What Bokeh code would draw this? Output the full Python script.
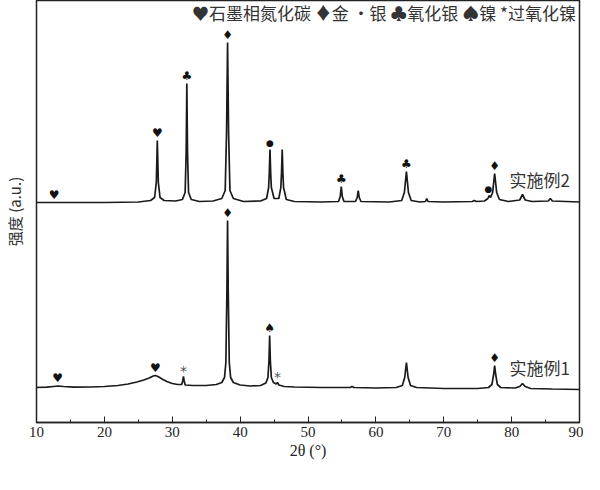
from bokeh.plotting import figure
from bokeh.models import Range1d, FixedTicker, Label
from bokeh.core.properties import value
from bokeh.embed import file_html
from bokeh.resources import INLINE

# ---- data ----
x1 = [10.0, 11.5, 12.5, 13.2, 14.0, 15.5, 18.0, 20.0, 22.0, 23.5, 24.8, 25.8, 26.6, 27.2, 27.5, 27.9,
      28.5, 29.2, 30.0, 30.8, 31.4, 31.55, 31.65, 31.75, 31.9, 33.0, 35.0, 36.5, 37.3, 37.7, 37.9,
      38.05, 38.15, 38.25, 38.4, 38.6, 39.0, 40.0, 41.5, 43.0, 43.8, 44.1, 44.25, 44.35, 44.45, 44.6,
      44.9, 45.3, 45.5, 45.7, 46.5, 48.0, 52.0, 56.2, 56.5, 56.8, 60.0, 63.0, 63.9, 64.25, 64.5, 64.75,
      65.1, 66.0, 70.0, 75.0, 76.6, 77.1, 77.35, 77.5, 77.65, 77.9, 78.4, 80.5, 81.2, 81.6, 82.0, 82.8,
      86.0, 90.0]
y1 = [35, 35.3, 36, 36.5, 36, 35.3, 35.5, 36, 37, 38.5, 40.5, 42.5, 44.5, 46.5, 47, 46,
      43.5, 41, 39, 38, 38, 42, 46, 42, 37.5, 37, 37, 38, 40, 45, 60,
      130, 202, 130, 60, 45, 40, 37.5, 36.5, 37, 39.5, 45, 62, 87, 62, 45,
      40, 38.5, 40, 37.5, 36, 35.5, 35, 35, 36, 35, 34.5, 35, 37, 45, 60, 45,
      37, 35, 34, 34, 35, 38, 48, 57, 48, 38, 35, 34.5, 36, 39, 36, 34,
      33.5, 33]

x2 = [10.0, 20.0, 25.0, 26.8, 27.4, 27.65, 27.8, 27.95, 28.2, 28.8, 30.5, 31.5, 31.9, 32.05, 32.15,
      32.25, 32.4, 32.8, 34.0, 36.0, 37.3, 37.8, 38.0, 38.15, 38.3, 38.5, 39.0, 40.5, 43.0, 43.9,
      44.2, 44.3, 44.4, 44.5, 44.6, 45.0, 45.7, 46.0, 46.1, 46.2, 46.3, 46.4, 46.8, 48.0, 52.0,
      54.5, 54.75, 54.9, 55.05, 55.3, 57.0, 57.25, 57.4, 57.55, 57.8, 62.0, 63.8, 64.2, 64.5, 64.8,
      65.2, 66.5, 67.3, 67.5, 67.7, 70.0, 74.2, 74.5, 74.8, 76.0, 76.5, 76.7, 76.9, 77.2, 77.5,
      77.8, 78.2, 79.5, 81.2, 81.6, 82.0, 83.0, 85.4, 85.7, 86.0, 90.0]
y2 = [220, 220, 220.5, 222, 225, 240, 282, 240, 225, 222, 221.5, 223, 230, 270, 339,
      270, 230, 223, 221, 221.5, 224, 232, 290, 380, 290, 232, 224, 221, 221.5, 224,
      235, 250, 273, 250, 235, 224, 224, 235, 250, 273, 250, 235, 223, 221, 220.5,
      221, 226, 236, 226, 221, 221, 225, 232, 225, 221, 220.5, 222, 230, 251, 230,
      222, 220.5, 221, 224, 221, 220.5, 221, 222, 221, 221.5, 224, 227, 225, 230, 249,
      230, 223, 221, 222.5, 228, 222.5, 221, 221.5, 224, 221.5, 220.5]

# phase markers: position, peak intensity, symbol
mark2_x = [12.6, 27.8, 32.15, 38.15, 54.9, 64.5, 77.5]
mark2_y = [220, 282, 339, 380, 236, 251, 249]
mark2_s = ["♥", "♥", "♣", "♦", "♣", "♣", "♦"]
dot2_x = [44.4, 76.6]
dot2_y = [273, 227]

mark1_x = [13.1, 27.5, 38.15, 44.35, 77.5]
mark1_y = [36.5, 47, 202, 87, 57]
mark1_s = ["♥", "♥", "♦", "♠", "♦"]

star1_x = [31.65, 45.5]
star1_y = [46, 40]

legend_text = "♥石墨相氮化碳 ♦金 •银 ♣氧化银 ♠镍 *过氧化镍"
series_names = ["实施例1", "实施例2"]
x_ticks = [10, 20, 30, 40, 50, 60, 70, 80, 90]
x_minor = [15, 25, 35, 45, 55, 65, 75, 85]

# ---- figure ----
p = figure(width=583, height=464, output_backend="svg", toolbar_location=None,
           x_range=Range1d(10, 90), y_range=Range1d(0, 422),
           min_border_left=32, min_border_right=4, min_border_top=0, min_border_bottom=42)
p.background_fill_color = "white"
p.grid.visible = False
p.outline_line_color = "#222222"
p.outline_line_width = 1.5

line_col = "#1a1a1a"
p.line(x1, y1, line_color=line_col, line_width=1.7)
p.line(x2, y2, line_color=line_col, line_width=1.7)

sym_font = value("DejaVu Sans")
p.text(x=mark2_x, y=mark2_y, text=mark2_s, text_font=sym_font, text_font_size="12px",
       text_align="center", text_baseline="bottom", y_offset=-1, text_color="#111111")
p.text(x=dot2_x, y=dot2_y, text=["●"] * len(dot2_x), text_font=sym_font, text_font_size="9px",
       text_align="center", text_baseline="bottom", y_offset=-2, text_color="#111111")
p.text(x=mark1_x, y=mark1_y, text=mark1_s, text_font=sym_font, text_font_size="12px",
       text_align="center", text_baseline="bottom", y_offset=-1, text_color="#111111")
p.text(x=star1_x, y=star1_y, text=["*"] * len(star1_x), text_font=sym_font, text_font_size="14px",
       text_align="center", text_baseline="bottom", y_offset=2, text_color="#555555")

cjk = "Noto Sans CJK SC"
p.add_layout(Label(x=32.9, y=410, text=legend_text, text_font=cjk, text_font_size="17px",
                   text_color="#333333", text_align="left", text_baseline="middle"))
p.add_layout(Label(x=79.7, y=55, text=series_names[0], text_font=cjk, text_font_size="17px",
                   text_color="#333333", text_align="left", text_baseline="middle"))
p.add_layout(Label(x=79.7, y=243, text=series_names[1], text_font=cjk, text_font_size="17px",
                   text_color="#333333", text_align="left", text_baseline="middle"))

# x axis
xa = p.xaxis[0]
xa.ticker = FixedTicker(ticks=x_ticks, minor_ticks=x_minor)
xa.major_tick_in = 6
xa.major_tick_out = 0
xa.minor_tick_in = 3
xa.minor_tick_out = 0
xa.axis_line_width = 1.5
xa.axis_line_color = "#222222"
xa.major_tick_line_color = "#222222"
xa.minor_tick_line_color = "#222222"
xa.major_label_text_font = "Liberation Serif"
xa.major_label_text_font_size = "15px"
xa.major_label_text_color = "#222222"
xa.major_label_standoff = 4
xa.axis_label = "2θ (°)"
xa.axis_label_text_font = "Liberation Serif"
xa.axis_label_text_font_style = "normal"
xa.axis_label_text_font_size = "16px"
xa.axis_label_text_color = "#222222"
xa.axis_label_standoff = 2

# y axis (label only)
ya = p.yaxis[0]
ya.ticker = FixedTicker(ticks=[])
ya.axis_line_color = None
ya.major_tick_line_color = None
ya.minor_tick_line_color = None
ya.axis_label = "强度 (a.u.)"
ya.axis_label_text_font = cjk
ya.axis_label_text_font_style = "normal"
ya.axis_label_text_font_size = "15px"
ya.axis_label_text_color = "#333333"
ya.axis_label_standoff = 12

open("out.html", "w").write(file_html(p, INLINE))
